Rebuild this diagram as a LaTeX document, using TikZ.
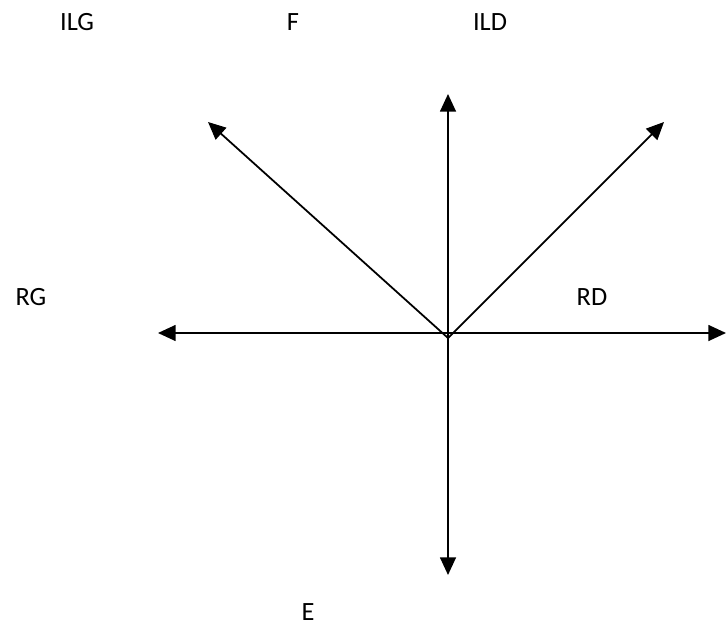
\documentclass[tikz,border=0pt]{standalone}
\usepackage{fontspec}
\setmainfont{Carlito}
\usetikzlibrary{arrows.meta}
\begin{document}
\begin{tikzpicture}[x=0.02cm, y=-0.02cm, >={Triangle[length=10pt,width=9pt]}, font=\fontsize{15}{18}\selectfont]
    \useasboundingbox (0,0) rectangle (726,628);

    % Points
    \coordinate (O) at (448, 338);
    \coordinate (haut) at (448, 94);
    \coordinate (bas) at (448, 575);
    \coordinate (gauche) at (158, 333);
    \coordinate (droite) at (726, 333);
    \coordinate (hautg) at (208, 122);
    \coordinate (hautd) at (664, 122);

    % Arrows
    \draw[line width=1pt, <->] (haut) -- (bas);
    \draw[line width=1pt, <->] (gauche) -- (droite);
    \draw[line width=1pt, ->] (O) -- (hautg);
    \draw[line width=1pt, ->] (O) -- (hautd);

    % Labels
    \node (ILG) at (77, 22) {ILG};
    \node (F) at (293, 22) {F};
    \node (ILD) at (490, 22) {ILD};
    \node (RG) at (31, 297) {RG};
    \node (RD) at (592, 297) {RD};
    \node (E) at (308, 612) {E};
\end{tikzpicture}
\end{document}
